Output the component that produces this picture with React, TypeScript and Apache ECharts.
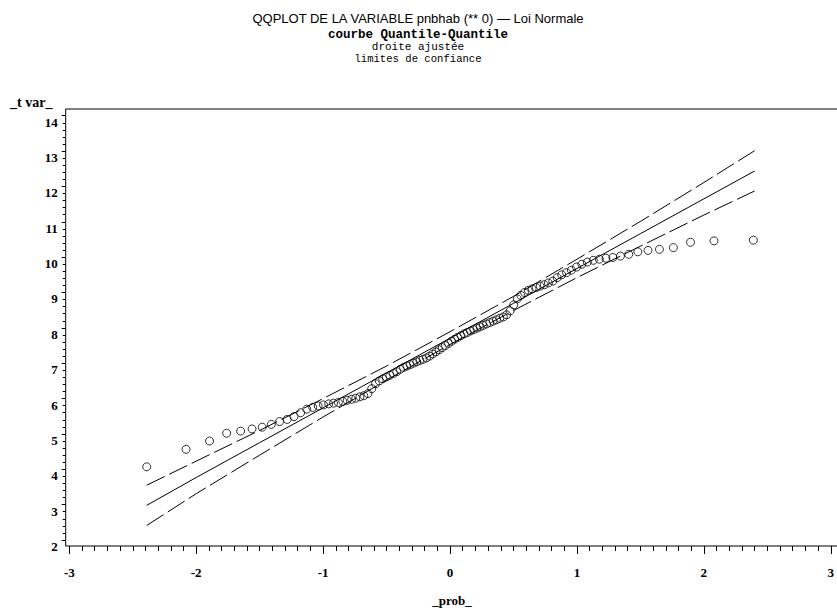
import React, { useEffect, useRef } from "react";
import * as echarts from "echarts";

// normal quantiles (x) of the sorted observations
const probX = [
  -2.39, -2.08, -1.895, -1.76, -1.65, -1.56, -1.48, -1.408, -1.343, -1.283,
  -1.229, -1.177, -1.129, -1.082, -1.039, -0.997, -0.956, -0.918, -0.88, -0.845,
  -0.81, -0.775, -0.743, -0.71, -0.679, -0.647, -0.617, -0.587, -0.558, -0.53,
  -0.502, -0.474, -0.446, -0.42, -0.392, -0.366, -0.34, -0.314, -0.288, -0.262,
  -0.237, -0.212, -0.186, -0.161, -0.136, -0.111, -0.086, -0.061, -0.037, -0.012,
  0.012, 0.037, 0.061, 0.086, 0.111, 0.136, 0.161, 0.186, 0.212, 0.237,
  0.262, 0.288, 0.314, 0.34, 0.366, 0.392, 0.42, 0.446, 0.474, 0.502,
  0.53, 0.558, 0.587, 0.617, 0.647, 0.679, 0.71, 0.743, 0.775, 0.81,
  0.845, 0.88, 0.918, 0.956, 0.997, 1.039, 1.082, 1.129, 1.177, 1.229,
  1.283, 1.343, 1.408, 1.48, 1.56, 1.65, 1.76, 1.895, 2.08, 2.39,
];

// sorted observed values of _tvar_
const tvarY = [
  4.07, 4.565, 4.8, 5.02, 5.08, 5.14, 5.19, 5.27, 5.35, 5.41,
  5.49, 5.6, 5.7, 5.75, 5.79, 5.82, 5.85, 5.87, 5.89, 5.92,
  5.95, 5.98, 6.01, 6.05, 6.08, 6.14, 6.28, 6.42, 6.5, 6.56,
  6.61, 6.66, 6.71, 6.76, 6.83, 6.88, 6.92, 6.96, 7.0, 7.04,
  7.08, 7.11, 7.15, 7.2, 7.26, 7.32, 7.38, 7.44, 7.5, 7.56,
  7.62, 7.68, 7.73, 7.78, 7.83, 7.87, 7.91, 7.95, 7.99, 8.03,
  8.07, 8.11, 8.15, 8.19, 8.23, 8.27, 8.31, 8.37, 8.48, 8.65,
  8.82, 8.92, 9.0, 9.06, 9.1, 9.14, 9.18, 9.22, 9.27, 9.32,
  9.42, 9.5, 9.56, 9.63, 9.72, 9.8, 9.86, 9.91, 9.94, 9.97,
  9.99, 10.03, 10.08, 10.15, 10.19, 10.22, 10.27, 10.42, 10.46, 10.48,
];

// fitted line and confidence limits
const lineX = [-2.39, -2, -1.5, -1, -0.5, 0, 0.5, 1, 1.5, 2, 2.4];
const fitY = [2.98, 3.768, 4.753, 5.738, 6.723, 7.708, 8.693, 9.678, 10.663, 11.648, 12.436];
const upperY = [3.55, 4.23, 5.1, 6.0, 6.92, 7.89, 8.89, 9.94, 11.01, 12.11, 13.01];
const lowerY = [2.41, 3.31, 4.4, 5.48, 6.52, 7.53, 8.49, 9.42, 10.31, 11.19, 11.87];

const titleMain = "QQPLOT DE LA VARIABLE pnbhab (** 0) \u2014 Loi Normale";
const subTitles = ["courbe Quantile-Quantile", "droite ajustée", "limites de confiance"];
const yName = "_t var_";
const xName = "_prob_";

const pairs = (xs: number[], ys: number[]) => xs.map((x, i) => [x, ys[i]]);

export default function App() {
  const ref = useRef<HTMLDivElement>(null);
  useEffect(() => {
    const chart = echarts.init(ref.current!, null, { renderer: "svg" });
    const dashed = { color: "#000", width: 1, type: [20, 5] as number[] };
    chart.setOption({
      animation: false,
      backgroundColor: "#fff",
      grid: { left: 69.3, right: 3.7, top: 115.7, bottom: 72 },
      xAxis: {
        type: "value",
        min: -3,
        max: 3,
        interval: 1,
        offset: 6,
        axisLine: { show: false, onZero: false },
        axisTick: { show: true, length: 8, lineStyle: { color: "#000" } },
        minorTick: { show: true, splitNumber: 10, length: 5, lineStyle: { color: "#000" } },
        splitLine: { show: false },
        axisLabel: {
          margin: 20,
          color: "#000",
          fontFamily: "Liberation Serif",
          fontWeight: "bold",
          fontSize: 13,
          formatter: (v: number) => String(v),
        },
      },
      yAxis: {
        type: "value",
        min: 2,
        max: 14,
        interval: 1,
        offset: 3.6,
        axisLine: { show: false, onZero: false },
        axisTick: { show: true, length: 4, lineStyle: { color: "#000" } },
        minorTick: { show: true, splitNumber: 5, length: 3, lineStyle: { color: "#000" } },
        splitLine: { show: false },
        axisLabel: {
          margin: 8,
          color: "#000",
          fontFamily: "Liberation Serif",
          fontWeight: "bold",
          fontSize: 13,
          verticalAlign: "top",
        },
      },
      graphic: [
        {
          type: "rect",
          shape: { x: 65.7, y: 109, width: 780, height: 437 },
          style: { fill: "none", stroke: "#000", lineWidth: 1 },
          silent: true,
        },
        {
          type: "text",
          style: { text: titleMain, x: 418, y: 18, align: "center", verticalAlign: "middle", font: "13px 'Liberation Sans'", fill: "#000" },
        },
        {
          type: "text",
          style: { text: subTitles[0], x: 418, y: 35, align: "center", verticalAlign: "middle", font: "bold 12.5px 'Liberation Mono'", fill: "#000" },
        },
        {
          type: "text",
          style: { text: subTitles[1], x: 418, y: 47, align: "center", verticalAlign: "middle", font: "11px 'Liberation Mono'", fill: "#000" },
        },
        {
          type: "text",
          style: { text: subTitles[2], x: 418, y: 59, align: "center", verticalAlign: "middle", font: "10.6px 'Liberation Mono'", fill: "#000" },
        },
        {
          type: "text",
          style: { text: yName, x: 10, y: 109, align: "left", verticalAlign: "bottom", font: "bold 14px 'Liberation Serif'", fill: "#000" },
        },
        {
          type: "text",
          style: { text: xName, x: 452, y: 600, align: "center", verticalAlign: "middle", font: "bold 13px 'Liberation Serif'", fill: "#000" },
        },
      ],
      series: [
        {
          type: "line",
          data: pairs(lineX, upperY),
          showSymbol: false,
          lineStyle: dashed,
          silent: true,
        },
        {
          type: "line",
          data: pairs(lineX, fitY),
          showSymbol: false,
          lineStyle: { color: "#000", width: 1 },
          silent: true,
        },
        {
          type: "line",
          data: pairs(lineX, lowerY),
          showSymbol: false,
          lineStyle: dashed,
          silent: true,
        },
        {
          type: "scatter",
          data: pairs(probX, tvarY),
          symbol: "circle",
          symbolSize: 8,
          itemStyle: { color: "rgba(0,0,0,0)", borderColor: "#000", borderWidth: 1 },
          silent: true,
        },
      ],
    });
    return () => chart.dispose();
  }, []);
  return (
    <div
      ref={ref}
      style={{ position: "fixed", left: 0, top: 0, width: 837, height: 612 }}
    />
  );
}
